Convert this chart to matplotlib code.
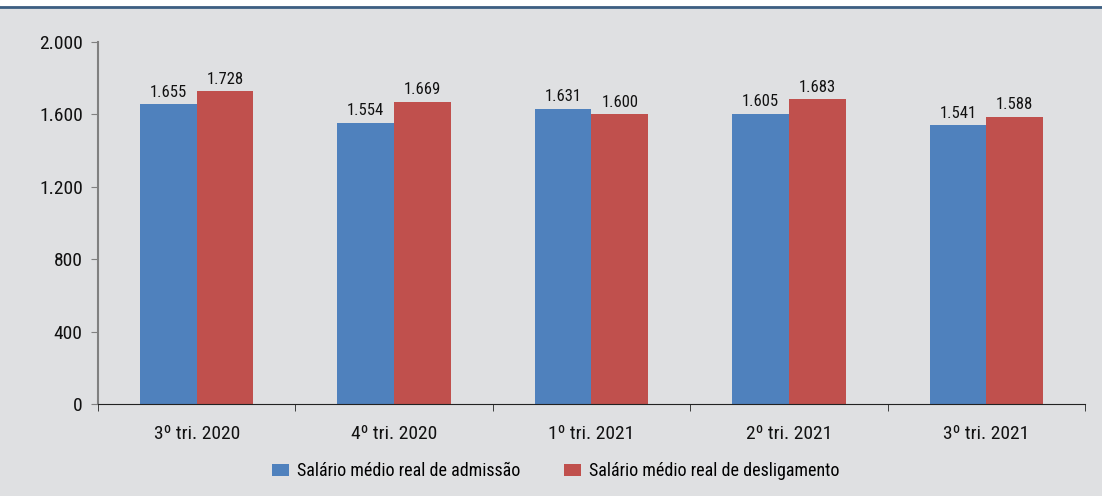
import matplotlib.pyplot as plt
from matplotlib.lines import Line2D
from matplotlib.ticker import FuncFormatter
import numpy as np

quarters = ["3º tri. 2020", "4º tri. 2020", "1º tri. 2021", "2º tri. 2021", "3º tri. 2021"]
admissao = [1655, 1554, 1631, 1605, 1541]
desligamento = [1728, 1669, 1600, 1683, 1588]

plt.rcParams['font.family'] = ['Roboto Condensed', 'DejaVu Sans']

bg = '#dfe0e2'
blue = '#4f81bd'
red = '#c0504d'

fig = plt.figure(figsize=(11.02, 4.96), dpi=100, facecolor=bg)
ax = fig.add_axes([0.0889, 0.1855, 0.8957, 0.7298])
ax.set_facecolor(bg)

x = np.arange(len(quarters))
w = 0.287
b1 = ax.bar(x - w / 2, admissao, w, color=blue, label='Salário médio real de admissão')
b2 = ax.bar(x + w / 2, desligamento, w, color=red, label='Salário médio real de desligamento')

fmt = lambda v: f"{v:,.0f}".replace(",", ".")
for bars in (b1, b2):
    for r in bars:
        ax.text(r.get_x() + r.get_width() / 2, r.get_height() + 25, fmt(r.get_height()),
                ha='center', va='bottom', fontsize=12, color='#111111')

ax.set_ylim(0, 2000)
ax.set_xlim(-0.5, 4.5)
ax.set_yticks([0, 400, 800, 1200, 1600, 2000])
ax.yaxis.set_major_formatter(FuncFormatter(lambda v, p: fmt(v)))
ax.set_xticks(x)
ax.set_xticklabels(quarters)
ax.set_xticks(np.arange(-0.5, 5, 1), minor=True)
ax.tick_params(axis='x', which='major', length=0, pad=15, labelsize=14, labelcolor='#111111')
ax.tick_params(axis='x', which='minor', length=5, color='#222222')
ax.tick_params(axis='y', length=5, color='#808080', labelsize=14, pad=6, labelcolor='#111111')

for s in ('top', 'right'):
    ax.spines[s].set_visible(False)
ax.spines['left'].set_color('#808080')
ax.spines['left'].set_linewidth(1.5)
ax.spines['bottom'].set_color('#222222')

fig.legend(loc='center', bbox_to_anchor=(0.504, 0.05), ncol=2, frameon=False,
           fontsize=13, handlelength=0.95, handleheight=0.7, columnspacing=2.4, handletextpad=0.45)

fig.add_artist(Line2D([0, 1], [1 - 6.5 / 496, 1 - 6.5 / 496], color='#3d5f82', lw=2))
fig.patches.append(plt.Rectangle((0, 1 - 5 / 496), 1, 5 / 496, transform=fig.transFigure,
                                 color='white', zorder=0))

fig.savefig('out.png', dpi=100, facecolor=bg)
